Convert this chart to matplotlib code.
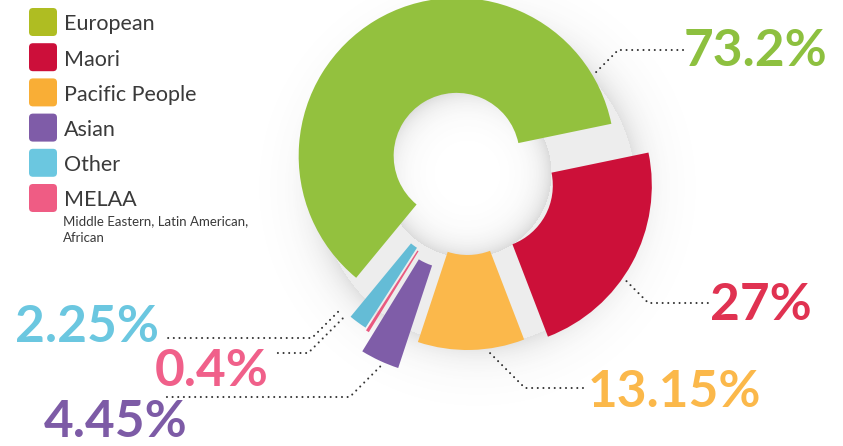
import numpy as np
import matplotlib.pyplot as plt
from matplotlib.patches import FancyBboxPatch

W, H = 843, 446

# ---------------------------------------------------------
# data
# ---------------------------------------------------------
categories = ['European', 'Maori', 'Pacific People', 'Asian', 'Other', 'MELAA']
percent = [73.2, 27, 13.15, 4.45, 2.25, 0.4]
footnote = 'Middle Eastern, Latin American,\nAfrican'

# ---------------------------------------------------------
# styling / layout (image pixel coords, y from top)
# ---------------------------------------------------------
swatch_colors = ['#afbd22', '#cc0f3a', '#f9ae36', '#7f5ca8', '#6bc7e0', '#ef5c84']
wedge_colors = ['#93c13e', '#cc1039', '#fbb84b', '#7f5da8', '#64bcd6', '#e95a80']
label_colors = ['#8dc03f', '#e03251', '#fbb84a', '#7d5ba6', '#6bc7e0', '#f0608a']
pie_order = [0, 1, 2, 3, 5, 4]          # clockwise from lower left
explode = [20, 26, 19, 36, 27, 29]      # px
outer_r = [158, 162, 158, 171, 158, 158]
inner_r = 63
cx, cy = 467, 173

# leader: anchor angle on wedge, horizontal line y, line end x, text x, text baseline
anchor_ang = [31, -35, -82, -114, -134, -132]
line_y = [50, 303, 388, 397, 338, 353]
line_end = [685, 710, 587, 163, 168, 277]
text_x = [684, 710, 588, 44, 15, 155]
text_base = [66, 320, 407, 437, 342, 386]


def Y(y):
    return H - y


fig = plt.figure(figsize=(W / 100, H / 100), dpi=100)
ax = fig.add_axes([0, 0, 1, 1])

# soft shadow behind the ring (gaps, hole rim, lower right halo)
yy, xx = np.mgrid[0:H, 0:W]
d_out = np.hypot(xx - (cx + 10), yy - (cy + 14))
d_in = np.hypot(xx - cx, yy - cy)
hole = inner_r + 21
alpha = np.where(d_out > 158, 0.17 * np.exp(-(d_out - 158) / 16), 0.1)
alpha = np.where(d_in < hole, 0.2 * np.exp(-(hole - d_in) / 13), alpha)
shade = np.zeros((H, W, 4))
shade[..., :3] = 0.3
shade[..., 3] = np.clip(alpha, 0, 1)
ax.imshow(shade, extent=(0, W, 0, H), origin='upper', zorder=0, interpolation='bilinear')

vals = [percent[i] for i in pie_order]
wedges, _ = ax.pie(vals, colors=[wedge_colors[i] for i in pie_order],
                   explode=[explode[i] for i in pie_order],
                   radius=158, center=(cx, Y(cy)), startangle=230.5,
                   counterclock=False,
                   wedgeprops=dict(width=158 - inner_r, linewidth=0))
patch = {}
for w, i in zip(wedges, pie_order):
    w.set_radius(outer_r[i])
    w.set_width(outer_r[i] - inner_r)
    w.set_zorder(2)
    patch[i] = w

# leader lines and percentage labels
for i in range(len(categories)):
    w = patch[i]
    a = np.radians(anchor_ang[i])
    x0 = w.center[0] + 1.03 * w.r * np.cos(a)
    y0 = w.center[1] + 1.03 * w.r * np.sin(a)
    ly = Y(line_y[i])
    side = 1 if line_end[i] > x0 else -1
    xe = x0 + side * abs(ly - y0)
    ax.plot([x0, xe, line_end[i]], [y0, ly, ly], color='#333333', lw=1.5,
            linestyle=(0, (0.01, 2.7)), dash_capstyle='round', zorder=3)
    ax.text(text_x[i], Y(text_base[i]), f'{percent[i]:g}%', color=label_colors[i],
            fontsize=37, fontweight='bold', family='Lato', ha='left', va='baseline', zorder=4)

# legend
for i, name in enumerate(categories):
    top = 8 + i * 35.2
    ax.add_patch(FancyBboxPatch((29, Y(top + 28)), 28, 28,
                                boxstyle='round,pad=0,rounding_size=4',
                                fc=swatch_colors[i], ec='none', zorder=4))
    ax.text(64, Y(top + 22.5), name, fontsize=15.5, family='Lato', color='#3a3a3a',
            ha='left', va='baseline', zorder=4)
ax.text(63, Y(215), footnote, fontsize=9.5, family='Lato', color='#3a3a3a',
        ha='left', va='top', linespacing=1.45, zorder=4)

ax.set_xlim(0, W)
ax.set_ylim(0, H)
ax.set_aspect('equal')
ax.axis('off')
plt.savefig('out.png', dpi=100)
